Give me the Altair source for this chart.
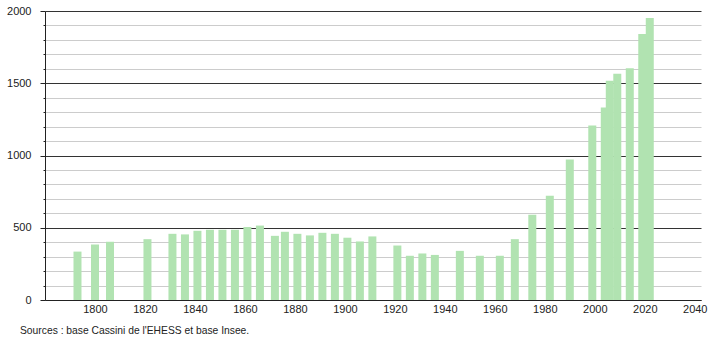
import altair as alt
import pandas as pd

years = [1793, 1800, 1806, 1821, 1831, 1836, 1841, 1846, 1851, 1856, 1861, 1866,
         1872, 1876, 1881, 1886, 1891, 1896, 1901, 1906, 1911, 1921, 1926, 1931,
         1936, 1946, 1954, 1962, 1968, 1975, 1982, 1990, 1999, 2004, 2006, 2009,
         2014, 2019, 2022]
population = [335, 384, 403, 421, 458, 454, 479, 486, 486, 486, 505, 515,
              444, 472, 458, 447, 465, 458, 431, 405, 440, 377, 306, 322,
              312, 340, 306, 306, 421, 590, 722, 972, 1208, 1333, 1518, 1566,
              1603, 1841, 1952]
x_labels = [1800, 1820, 1840, 1860, 1880, 1900, 1920, 1940, 1960, 1980, 2000, 2020, 2040]
y_grid = list(range(0, 2001, 100))
source_text = "Sources : base Cassini de l'EHESS et base Insee."

df = pd.DataFrame({"annee": years, "population": population})

FONT = "Liberation Sans"

major = "datum.value % 500 === 0"

bars = alt.Chart(df).mark_bar(size=8, color="#b1e3b1").encode(
    x=alt.X("annee:Q",
            scale=alt.Scale(domain=[1780, 2042.5], nice=False, zero=False, padding=0),
            axis=alt.Axis(values=x_labels, format="d", ticks=False, grid=False,
                          labelPadding=3, labelFontSize=11, labelFont=FONT,
                          labelColor="#222", domainColor="#222", title=None,
                          labelFlush=False)),
    y=alt.Y("population:Q",
            scale=alt.Scale(domain=[0, 2000], nice=False, padding=0),
            axis=alt.Axis(values=y_grid, format="d", title=None,
                          labelExpr="datum.value % 500 === 0 ? datum.label : ''",
                          grid=True,
                          gridColor={"condition": {"test": major, "value": "#333333"}, "value": "#cccccc"},
                          gridWidth=1,
                          tickSize={"condition": {"test": major, "value": 5}, "value": 2},
                          tickColor="#222", domainColor="#222",
                          labelPadding=9, labelFontSize=11, labelFont=FONT,
                          labelColor="#222")),
)

source = alt.Chart(pd.DataFrame({"t": [source_text]})).mark_text(
    align="left", baseline="middle", fontSize=10.3, font=FONT, color="#222"
).encode(
    x=alt.value(-25), y=alt.value(319.5), text="t:N"
)

chart = alt.layer(bars, source).properties(
    width=656, height=289,
    autosize=alt.AutoSizeParams(type="none"),
    padding={"left": 45, "top": 11, "right": 9, "bottom": 40},
).configure_view(stroke=None).configure_axis(gridOpacity=1)

chart.save("out.html", embed_options={"renderer": "svg", "actions": False})
